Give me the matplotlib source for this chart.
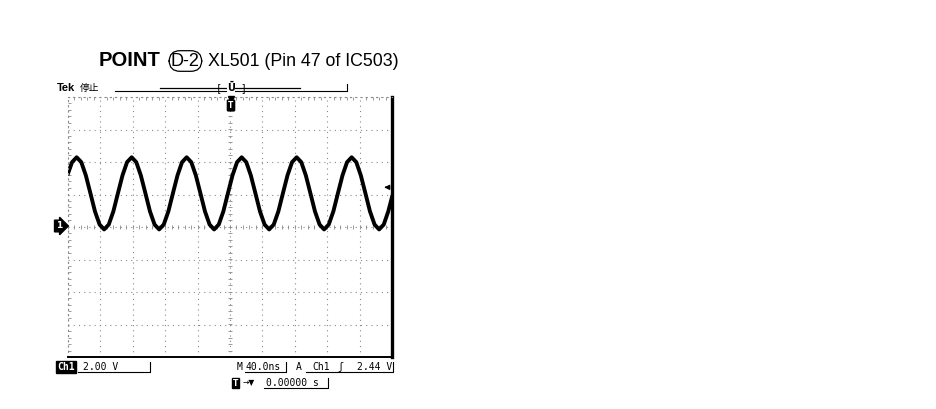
import numpy as np
import matplotlib.pyplot as plt
from matplotlib.lines import Line2D

# Ch1 trace (time in ns, level in V)
t_ns = [-200.0, -195.0, -189.3, -183.6, -178.0, -172.3, -166.7, -161.0, -155.4,
        -149.7, -144.0, -138.4, -132.7, -127.1, -121.4, -115.7, -110.1, -104.4,
        -98.8, -93.1, -87.5, -81.8, -76.1, -70.5, -64.8, -59.2, -53.5, -47.8,
        -42.2, -36.5, -30.9, -25.2, -19.6, -13.9, -8.2, -2.6, 3.1, 8.7, 14.4,
        20.1, 25.7, 31.4, 37.0, 42.7, 48.3, 54.0, 59.7, 65.3, 71.0, 76.6, 82.3,
        88.0, 93.6, 99.3, 104.9, 110.6, 116.2, 121.9, 127.6, 133.2, 138.9,
        144.5, 150.2, 155.9, 161.5, 167.2, 172.8, 178.5, 184.1, 189.8, 195.4,
        200.0]
ch1_v = [3.29, 3.99, 4.29, 3.99, 3.18, 2.07, 0.96, 0.15, -0.15, 0.15, 0.96,
         2.07, 3.18, 3.99, 4.29, 3.99, 3.18, 2.07, 0.96, 0.15, -0.15, 0.15,
         0.96, 2.07, 3.18, 3.99, 4.29, 3.99, 3.18, 2.07, 0.96, 0.15, -0.15,
         0.15, 0.96, 2.07, 3.18, 3.99, 4.29, 3.99, 3.18, 2.07, 0.96, 0.15,
         -0.15, 0.15, 0.96, 2.07, 3.18, 3.99, 4.29, 3.99, 3.18, 2.07, 0.96,
         0.15, -0.15, 0.15, 0.96, 2.07, 3.18, 3.99, 4.29, 3.99, 3.18, 2.07,
         0.96, 0.15, -0.15, 0.15, 0.96, 1.84]

volts_div = 2.0
time_div = 40.0
trig_level = 2.44

W, H = 937, 409
fig = plt.figure(figsize=(W / 100, H / 100), dpi=100)


def fx(x):
    return x / W


def fy(y):
    return 1 - y / H


# title
fig.text(fx(99), fy(61), 'POINT', fontsize=14.5, fontweight='bold',
         family='Liberation Sans', va='center')
fig.text(fx(171), fy(61), 'D-2', fontsize=13, family='Liberation Sans', va='center',
         bbox=dict(boxstyle='round,pad=0.1,rounding_size=0.6', fc='none', ec='black', lw=0.9))
fig.text(fx(208), fy(61), 'XL501 (Pin 47 of IC503)', fontsize=12.8,
         family='Liberation Sans', va='center')

ax = fig.add_axes([fx(68), fy(357), (392 - 68) / W, (357 - 97) / H])
ax.plot(t_ns, ch1_v, color='black', lw=2.8, solid_joinstyle='round')
ax.set_xlim(-5 * time_div, 5 * time_div)
ax.set_ylim(-4 * volts_div, 4 * volts_div)

# graticule
ax.set_xticks(np.arange(-200, 201, time_div))
ax.set_yticks(np.arange(-8, 8.1, volts_div))
ax.set_xticks(np.arange(-200, 201, time_div / 5), minor=True)
ax.set_yticks(np.arange(-8, 8.1, volts_div / 5), minor=True)
ax.grid(True, which='major', color='#8a8a8a', lw=0.8, linestyle=(0, (1, 3.7)))
ax.tick_params(which='both', direction='in', labelbottom=False, labelleft=False,
               color='#9a9a9a', top=True, right=False, bottom=False)
ax.tick_params(which='major', length=0)
ax.tick_params(which='minor', length=2.2, width=0.7)
for s in ['top', 'left']:
    ax.spines[s].set_color('#8a8a8a')
    ax.spines[s].set_linestyle((0, (1, 3.7)))
    ax.spines[s].set_linewidth(0.8)
ax.spines['right'].set_linewidth(2.4)
ax.spines['bottom'].set_linewidth(1.4)

# centre cross-hair ticks
xm = np.arange(-200, 201, time_div / 5)
ym = np.arange(-8, 8.1, volts_div / 5)
ax.plot(xm, np.zeros_like(xm), ls='none', marker='|', ms=3, mew=0.7, color='#9a9a9a', zorder=1)
ax.plot(np.zeros_like(ym), ym, ls='none', marker='_', ms=3, mew=0.7, color='#9a9a9a', zorder=1)

# trigger level arrow
ax.annotate('', xy=(187, trig_level), xytext=(197, trig_level),
            arrowprops=dict(arrowstyle='-|>', color='black', lw=1.0, mutation_scale=7))

# ground marker
fig.text(fx(59), fy(226), '1', fontsize=6.5, fontweight='bold', color='white',
         ha='center', va='center',
         bbox=dict(boxstyle='rarrow,pad=0.15', fc='black', ec='black'))

# trigger position marker
fig.add_artist(Line2D([fx(231)], [fy(99)], marker='v', ms=4.5, color='black', ls='none'))
fig.text(fx(231), fy(105.5), 'T', fontsize=5.5, fontweight='bold', color='white',
         ha='center', va='center',
         bbox=dict(boxstyle='round,pad=0.12', fc='black', ec='black'))

# header line
fig.text(fx(57), fy(88), 'Tek', fontsize=8, fontweight='bold', family='Liberation Sans', va='center')
fig.text(fx(80), fy(88), '停止', fontsize=7, family=['Noto Sans CJK JP', 'DejaVu Sans'], va='center')
fig.add_artist(Line2D([fx(115), fx(347), fx(347)], [fy(91), fy(91), fy(84)], color='black', lw=0.8))
fig.add_artist(Line2D([fx(160), fx(300)], [fy(88), fy(88)], color='black', lw=0.9))
fig.text(fx(219), fy(88), '[', fontsize=7, va='center', ha='center', family='DejaVu Sans Mono')
fig.text(fx(243), fy(88), ']', fontsize=7, va='center', ha='center', family='DejaVu Sans Mono')
fig.text(fx(231), fy(88), 'Ū', fontsize=7, fontweight='bold', va='center', ha='center',
         family='DejaVu Sans', bbox=dict(boxstyle='square,pad=0.05', fc='white', ec='none'))

# readouts
mono = 'DejaVu Sans Mono'
fig.text(fx(57), fy(367), 'Ch1', fontsize=7, color='white', fontweight='bold', family=mono,
         va='center', bbox=dict(boxstyle='square,pad=0.1', fc='black', ec='black'))
fig.text(fx(83), fy(367), '2.00 V', fontsize=7, family=mono, va='center')
fig.add_artist(Line2D([fx(78), fx(150), fx(150)], [fy(372), fy(372), fy(362)], color='black', lw=0.8))
fig.text(fx(237), fy(367), 'M', fontsize=7, family=mono, va='center')
fig.text(fx(246), fy(367), '40.0ns', fontsize=7, family=mono, va='center')
fig.add_artist(Line2D([fx(245), fx(286), fx(286)], [fy(372), fy(372), fy(362)], color='black', lw=0.8))
fig.text(fx(296), fy(367), 'A', fontsize=7, family=mono, va='center')
fig.text(fx(312), fy(367), 'Ch1', fontsize=7, family=mono, va='center')
fig.text(fx(337), fy(367), 'ʃ', fontsize=7, family=mono, va='center')
fig.text(fx(392), fy(367), f'{trig_level:.2f} V', fontsize=7, family=mono, va='center', ha='right')
fig.add_artist(Line2D([fx(306), fx(393), fx(393)], [fy(372), fy(372), fy(362)], color='black', lw=0.8))

fig.text(fx(233), fy(383), 'T', fontsize=5.5, fontweight='bold', color='white', va='center',
         bbox=dict(boxstyle='square,pad=0.12', fc='black', ec='black'))
fig.text(fx(243), fy(383), '→▼', fontsize=5.5, family='DejaVu Sans', va='center')
fig.text(fx(266), fy(383), '0.00000 s', fontsize=7, family=mono, va='center')
fig.add_artist(Line2D([fx(264), fx(328), fx(328)], [fy(388), fy(388), fy(378)], color='black', lw=0.8))

fig.savefig('out.png', dpi=100)
